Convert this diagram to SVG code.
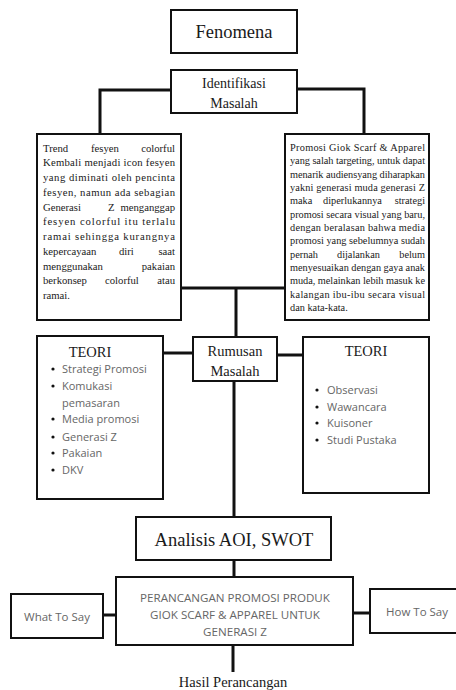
<svg xmlns="http://www.w3.org/2000/svg" width="456" height="690" viewBox="0 0 456 690">
<style>
.box{fill:#fff;stroke:#111;stroke-width:2}
.con{fill:none;stroke:#111;stroke-width:3}
.serif{font-family:"Liberation Serif","Times New Roman",serif;fill:#1a1a1a}
.sans{font-family:"Open Sans","Noto Sans",sans-serif;fill:#666}
.p1{font-size:10.7px}
.p2{font-size:10.3px}
.c{text-anchor:middle}
.e{text-anchor:end}
.dot{fill:#111}
</style>
<rect width="456" height="690" fill="#fff"/>
<g id="connectors">
<path class="con" d="M171 90 H100 V134"/>
<path class="con" d="M297 89 H364 V134"/>
<path class="con" d="M181 288 H285"/>
<path class="con" d="M236 288 V337"/>
<path class="con" d="M163 353 H193"/>
<path class="con" d="M277 355 H303"/>
<path class="con" d="M234 381 V517"/>
<path class="con" d="M234 560 V577"/>
<path class="con" d="M103 615 H116"/>
<path class="con" d="M353 613 H370"/>
<path class="con" d="M233 645 V672"/>
</g>
<g id="fenomena">
<rect class="box" x="171" y="10" width="126" height="43"/>
<text class="serif c" x="234" y="37.5" font-size="18.5">Fenomena</text>
</g>
<g id="identifikasi">
<rect class="box" x="171" y="70" width="126" height="43"/>
<text class="serif c" x="234" y="88" font-size="14">Identifikasi</text>
<text class="serif c" x="234" y="107.5" font-size="14">Masalah</text>
</g>
<g id="masalah-kiri">
<rect class="box" x="37" y="134" width="144" height="186"/>
<g class="serif p1">
<text x="43" y="151.5">Trend</text><text x="91" y="151.5">fesyen</text><text class="e" x="175" y="151.5">colorful</text>
<text x="43" y="166" textLength="132" lengthAdjust="spacing">Kembali menjadi icon fesyen</text>
<text x="43" y="181" textLength="132" lengthAdjust="spacing">yang diminati oleh pencinta</text>
<text x="43" y="196" textLength="132" lengthAdjust="spacing">fesyen, namun ada sebagian</text>
<text x="43" y="210.5">Generasi</text><text x="108" y="210.5">Z</text><text class="e" x="175" y="210.5">menganggap</text>
<text x="43" y="225" textLength="132" lengthAdjust="spacing">fesyen  colorful itu terlalu</text>
<text x="43" y="240" textLength="132" lengthAdjust="spacing">ramai sehingga kurangnya</text>
<text x="43" y="255">kepercayaan</text><text x="119" y="255">diri</text><text class="e" x="175" y="255">saat</text>
<text x="43" y="269.5">menggunakan</text><text class="e" x="175" y="269.5">pakaian</text>
<text x="43" y="284">berkonsep</text><text x="105" y="284">colorful</text><text class="e" x="175" y="284">atau</text>
<text x="43" y="299">ramai.</text>
</g>
</g>
<g id="masalah-kanan">
<rect class="box" x="285" y="134" width="144" height="186"/>
<g class="serif p2">
<text x="290" y="151" textLength="135" lengthAdjust="spacing">Promosi Giok Scarf &amp; Apparel</text>
<text x="290" y="164.3" textLength="135" lengthAdjust="spacing">yang salah targeting, untuk dapat</text>
<text x="290" y="177.7" textLength="135" lengthAdjust="spacing">menarik audiensyang diharapkan</text>
<text x="290" y="191" textLength="135" lengthAdjust="spacing">yakni generasi muda generasi Z</text>
<text x="290" y="204.3">maka</text><text x="323" y="204.3">diperlukannya</text><text class="e" x="425" y="204.3">strategi</text>
<text x="290" y="217.7" textLength="135" lengthAdjust="spacing">promosi secara visual yang baru,</text>
<text x="290" y="231" textLength="135" lengthAdjust="spacing">dengan beralasan bahwa media</text>
<text x="290" y="244.3" textLength="135" lengthAdjust="spacing">promosi yang sebelumnya sudah</text>
<text x="290" y="257.7">pernah</text><text x="337" y="257.7">dijalankan</text><text class="e" x="425" y="257.7">belum</text>
<text x="290" y="271" textLength="135" lengthAdjust="spacing">menyesuaikan dengan gaya anak</text>
<text x="290" y="284.3" textLength="135" lengthAdjust="spacing">muda, melainkan lebih masuk ke</text>
<text x="290" y="297.7" textLength="135" lengthAdjust="spacing">kalangan ibu-ibu secara visual</text>
<text x="290" y="311">dan kata-kata.</text>
</g>
</g>
<g id="rumusan">
<rect class="box" x="193" y="337" width="84" height="44"/>
<text class="serif c" x="235" y="356" font-size="14.5">Rumusan</text>
<text class="serif c" x="235" y="376" font-size="14.5">Masalah</text>
</g>
<g id="teori-kiri">
<rect class="box" x="37" y="336" width="126" height="163"/>
<text class="serif c" x="90" y="357" font-size="14.5">TEORI</text>
<g class="sans" font-size="11">
<circle class="dot" cx="53" cy="369" r="1.6"/><text x="62" y="373">Strategi Promosi</text>
<circle class="dot" cx="53" cy="386" r="1.6"/><text x="62" y="390">Komukasi</text>
<text x="62" y="407">pemasaran</text>
<circle class="dot" cx="53" cy="419" r="1.6"/><text x="62" y="423">Media promosi</text>
<circle class="dot" cx="53" cy="437" r="1.6"/><text x="62" y="441">Generasi Z</text>
<circle class="dot" cx="53" cy="453" r="1.6"/><text x="62" y="457">Pakaian</text>
<circle class="dot" cx="53" cy="470" r="1.6"/><text x="62" y="474">DKV</text>
</g>
</g>
<g id="teori-kanan">
<rect class="box" x="303" y="337" width="126" height="156"/>
<text class="serif c" x="366" y="356" font-size="14.5">TEORI</text>
<g class="sans" font-size="11">
<circle class="dot" cx="317" cy="390" r="1.6"/><text x="327" y="394">Observasi</text>
<circle class="dot" cx="317" cy="407" r="1.6"/><text x="327" y="411">Wawancara</text>
<circle class="dot" cx="317" cy="423" r="1.6"/><text x="327" y="427">Kuisoner</text>
<circle class="dot" cx="317" cy="440" r="1.6"/><text x="327" y="444">Studi Pustaka</text>
</g>
</g>
<g id="analisis">
<rect class="box" x="136" y="517" width="195" height="43"/>
<text class="serif c" x="234" y="545.5" font-size="18.5">Analisis AOI, SWOT</text>
</g>
<g id="perancangan">
<rect class="box" x="116" y="577" width="237" height="68"/>
<g class="sans c" font-size="11.6">
<text x="235" y="602">PERANCANGAN PROMOSI PRODUK</text>
<text x="235" y="619">GIOK SCARF &amp; APPAREL UNTUK</text>
<text x="235" y="636">GENERASI Z</text>
</g>
</g>
<g id="what-to-say">
<rect class="box" x="11" y="594" width="92" height="44"/>
<text class="sans c" x="57" y="621" font-size="11.5">What To Say</text>
</g>
<g id="how-to-say">
<rect class="box" x="370" y="589" width="90" height="44"/>
<text class="sans c" x="417" y="616" font-size="11.5">How To Say</text>
</g>
<g id="hasil">
<text class="serif c" x="233" y="687" font-size="14.5">Hasil Perancangan</text>
</g>
</svg>
